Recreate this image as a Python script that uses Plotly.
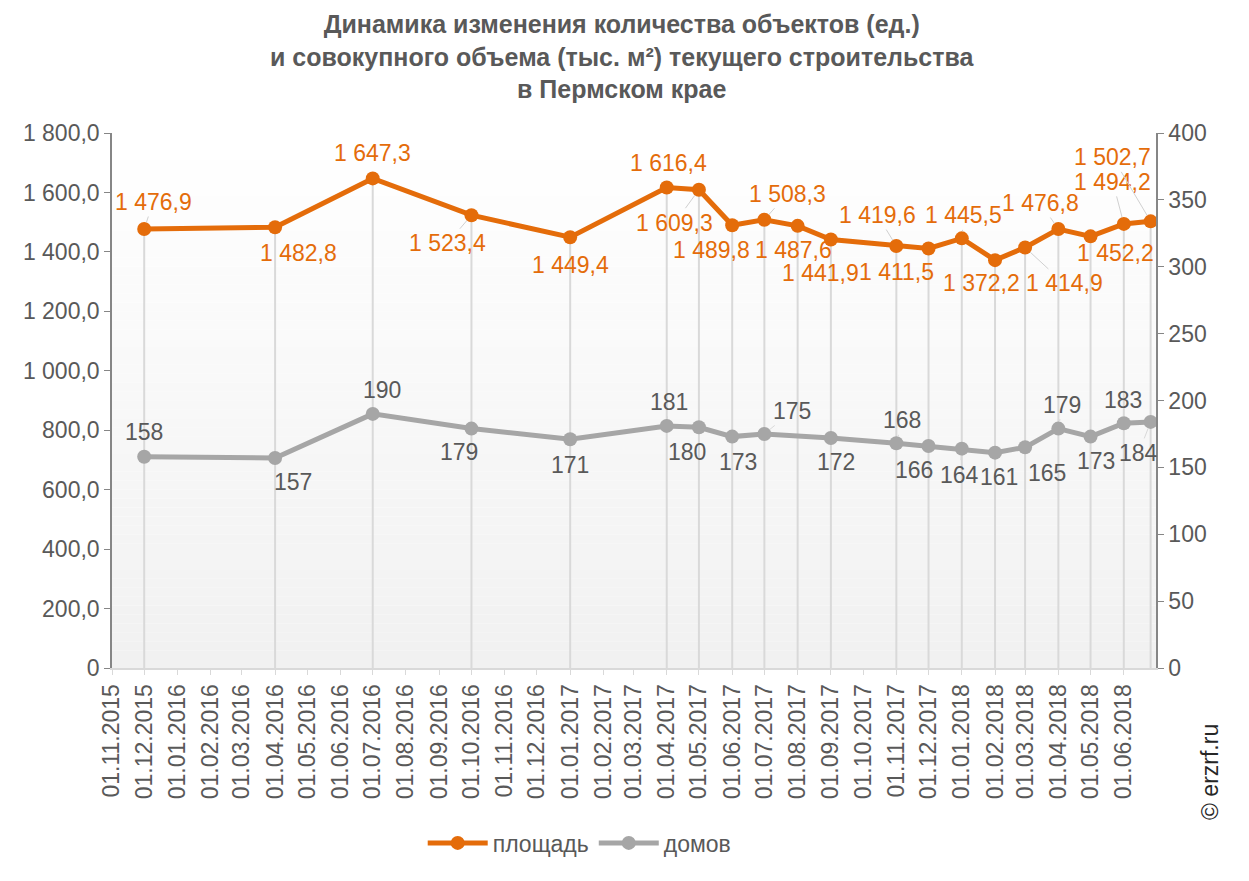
import plotly.graph_objects as go
import pandas as pd

# ---------------- data ----------------
dates = ["2015-12-01", "2016-04-01", "2016-07-01", "2016-10-01", "2017-01-01",
         "2017-04-01", "2017-05-01", "2017-06-01", "2017-07-01", "2017-08-01",
         "2017-09-01", "2017-11-01", "2017-12-01", "2018-01-01", "2018-02-01",
         "2018-03-01", "2018-04-01", "2018-05-01", "2018-06-01", "2018-06-26"]
area = [1476.9, 1482.8, 1647.3, 1523.4, 1449.4, 1616.4, 1609.3, 1489.8, 1508.3, 1487.6,
        1441.9, 1419.6, 1411.5, 1445.5, 1372.2, 1414.9, 1476.8, 1452.2, 1494.2, 1502.7]
houses = [158, 157, 190, 179, 171, 181, 180, 173, 175, None,
          172, 168, 166, 164, 161, 165, 179, 173, 183, 184]

series_names = ["площадь", "домов"]
title_lines = ["Динамика изменения количества объектов (ед.)",
               "и совокупного объема (тыс. м²) текущего строительства",
               "в Пермском крае"]
left_ticks = [0, 200, 400, 600, 800, 1000, 1200, 1400, 1600, 1800]
right_ticks = [0, 50, 100, 150, 200, 250, 300, 350, 400]
x_tick_dates = pd.date_range("2015-11-01", "2018-06-01", freq="MS")

# ---------------- style ----------------
ORANGE = "#E46C0A"
GREY = "#A6A6A6"
TEXT = "#595959"
FONT = "Liberation Sans, Arial, sans-serif"
FS = 23

# label offsets (px, dy positive = down) and which labels have leader lines
area_off = [(9, -27), (23, 26), (0, -25), (-24, 28), (0, 28), (2, -25), (-24, 33), (-21, 25),
            (23, -26), (-4, 24), (-10, 34), (-19, -31), (-32, 24), (2, -23), (-14, 23),
            (39, 36), (-18, -26), (25, 17), (-11, -42), (-38, -64)]
area_leader = {0, 3, 6, 8, 11, 13, 15, 16, 18, 19}
houses_off = [(0, -25), (18, 24), (9, -24), (-12, 23), (0, 26), (2, -24), (-12, 25), (6, 25),
              (28, -23), None, (5, 24), (6, -23), (-15, 24), (-2, 26), (4, 24), (22, 26),
              (4, -24), (5, 24), (-1, -23), (-12, 31)]
houses_leader = {5, 8, 11, 13, 16, 18, 19}


def fmt1(v):
    return f"{v:,.1f}".replace(",", " ").replace(".", ",")


fig = go.Figure()

# gradient background of plot area
N = 60
for i in range(N):
    t = i / (N - 1)
    c = int(round(241 + (255 - 241) * t))
    fig.add_shape(type="rect", xref="paper", yref="paper", x0=0, x1=1,
                  y0=i / N, y1=(i + 1) / N, fillcolor=f"rgb({c},{c},{c})",
                  line=dict(width=0), layer="below")

# drop lines
dx, dy = [], []
for d, v in zip(dates, area):
    dx += [d, d, None]
    dy += [0, v, None]
fig.add_trace(go.Scatter(x=dx, y=dy, mode="lines", line=dict(color="#D9D9D9", width=2),
                         showlegend=False, hoverinfo="skip"))

fig.add_trace(go.Scatter(x=dates, y=area, name=series_names[0], mode="lines+markers",
                         line=dict(color=ORANGE, width=5), marker=dict(size=14, color=ORANGE),
                         yaxis="y"))
fig.add_trace(go.Scatter(x=dates, y=houses, name=series_names[1], mode="lines+markers",
                         connectgaps=True,
                         line=dict(color=GREY, width=5), marker=dict(size=14, color=GREY),
                         yaxis="y2"))

ann = []
for i, (d, v) in enumerate(zip(dates, area)):
    ox, oy = area_off[i]
    ann.append(dict(x=d, y=v, xref="x", yref="y", text=fmt1(v), showarrow=True,
                    ax=ox, ay=oy, arrowhead=0, arrowwidth=1, standoff=7,
                    arrowcolor="#D0D0D0" if i in area_leader else "rgba(0,0,0,0)",
                    font=dict(family=FONT, size=FS, color=ORANGE)))
for i, (d, v) in enumerate(zip(dates, houses)):
    if v is None:
        continue
    ox, oy = houses_off[i]
    ann.append(dict(x=d, y=v, xref="x", yref="y2", text=str(v), showarrow=True,
                    ax=ox, ay=oy, arrowhead=0, arrowwidth=1, standoff=7,
                    arrowcolor="#D9D9D9" if i in houses_leader else "rgba(0,0,0,0)",
                    font=dict(family=FONT, size=FS, color=TEXT)))
ann.append(dict(x=1.066, y=-0.288, xref="paper", yref="paper", text="© erzrf.ru",
                textangle=-90, showarrow=False,
                font=dict(family=FONT, size=FS, color="#262626")))
ann.append(dict(x=0.4885, y=(668 - 56) / 535, xref="paper", yref="paper",
                text="<br>".join(title_lines), showarrow=False,
                xanchor="center", yanchor="middle",
                font=dict(family=FONT, size=25, color=TEXT, weight="bold")))

# the page body has an 8px margin; size the figure so the plot area lands at
# x 112..1156, y 133..668 of the 1249x881 window
fig.update_layout(
    width=1241, height=873,
    margin=dict(l=104, r=93, t=125, b=213),
    paper_bgcolor="white", plot_bgcolor="rgba(0,0,0,0)",
    font=dict(family=FONT, size=FS, color=TEXT),
    xaxis=dict(type="date", range=["2015-11-01", "2018-07-01"],
               tickvals=list(x_tick_dates),
               ticktext=[d.strftime("%d.%m.%Y") for d in x_tick_dates],
               tickangle=-90, ticks="outside", ticklen=5, tickcolor="#D9D9D9",
               showline=True, linecolor="#D9D9D9", linewidth=2, showgrid=False,
               zeroline=False, tickfont=dict(size=FS, color=TEXT)),
    yaxis=dict(range=[0, 1800], tickvals=left_ticks,
               ticktext=["0" if v == 0 else fmt1(v) for v in left_ticks],
               ticks="outside", ticklen=6, tickcolor="#868686",
               showline=True, linecolor="#868686", linewidth=1.5,
               showgrid=False, zeroline=False, tickfont=dict(size=FS, color=TEXT)),
    yaxis2=dict(range=[0, 400], tickvals=right_ticks, ticktext=[str(v) for v in right_ticks],
                overlaying="y", side="right", ticks="outside", ticklen=6, tickcolor="#868686",
                showline=True, linecolor="#868686", linewidth=1.5,
                showgrid=False, zeroline=False, tickfont=dict(size=FS, color=TEXT)),
    legend=dict(orientation="h", x=0.448, xanchor="center", y=-0.327, yanchor="middle",
                itemwidth=60, font=dict(size=FS, color=TEXT), bgcolor="rgba(0,0,0,0)"),
    annotations=ann,
    showlegend=True,
)

fig.write_html("out.html")
